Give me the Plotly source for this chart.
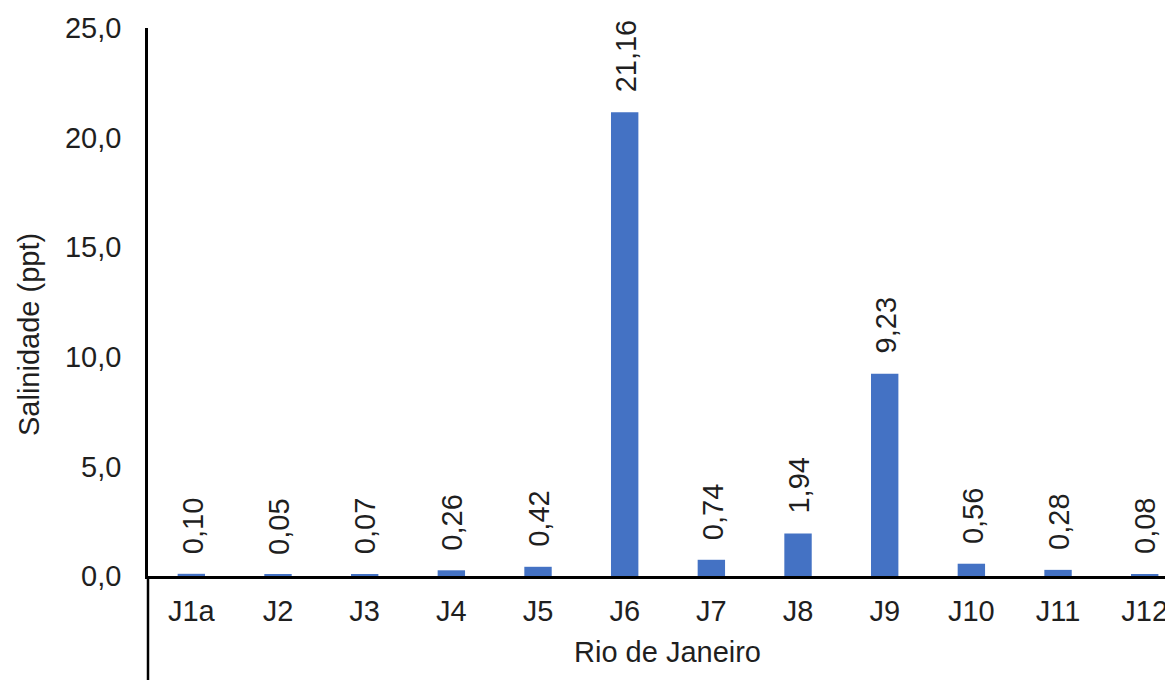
import plotly.graph_objects as go

categories = ["J1a", "J2", "J3", "J4", "J5", "J6", "J7", "J8", "J9", "J10", "J11", "J12"]
salinity = [0.10, 0.05, 0.07, 0.26, 0.42, 21.16, 0.74, 1.94, 9.23, 0.56, 0.28, 0.08]
y_ticks = [0, 5, 10, 15, 20, 25]

FONT = "Arial, Liberation Sans, sans-serif"
TXT = "#1f1f1f"
FS = 29

# the page body adds an 8px offset, so the figure is sized to fit the window
OFF = 8
W, H = 1173 - OFF, 680 - OFF
ML, MR, MT, MB = 148 - OFF, 0, 28 - OFF, 104
plot_w = W - ML - MR
plot_h = H - MT - MB
unit = 86.67  # px per category
x_max = -0.5 + plot_w / unit

fig = go.Figure(
    go.Bar(
        x=categories,
        y=salinity,
        marker=dict(color="#4472C4", line=dict(width=0)),
        width=0.316,
        hoverinfo="x+y",
    )
)

annotations = []
for c, v in zip(categories, salinity):
    annotations.append(dict(
        x=c, y=v, xref="x", yref="y",
        text=f"{v:.2f}".replace(".", ","),
        textangle=-90, showarrow=False,
        xanchor="center", yanchor="bottom", yshift=18, xshift=1,
        font=dict(family=FONT, size=FS, color=TXT),
    ))

# axis titles (positions in window pixels converted to paper units)
annotations.append(dict(
    x=(667.5 - 148) / plot_w, y=(576 - 652) / plot_h, xref="paper", yref="paper",
    text="Rio de Janeiro", showarrow=False, xanchor="center", yanchor="middle",
    font=dict(family=FONT, size=FS, color=TXT),
))
annotations.append(dict(
    x=(29 - 148) / plot_w, y=(576 - 335) / plot_h, xref="paper", yref="paper",
    text="Salinidade (ppt)", textangle=-90, showarrow=False, xanchor="center", yanchor="middle",
    font=dict(family=FONT, size=FS, color=TXT),
))

fig.update_layout(
    width=W, height=H,
    margin=dict(l=ML, r=MR, t=MT, b=MB, pad=0),
    paper_bgcolor="white", plot_bgcolor="white",
    separators=",.",
    showlegend=False,
    font=dict(family=FONT, size=FS, color=TXT),
    annotations=annotations,
    xaxis=dict(
        type="category",
        range=[-0.5, x_max],
        showline=True, linecolor="#000000", linewidth=2.5,
        ticks="", showgrid=False, zeroline=False,
        tickfont=dict(family=FONT, size=FS, color=TXT),
        ticklabelstandoff=7,
    ),
    yaxis=dict(
        range=[0, 25],
        tickvals=y_ticks,
        tickformat=".1f",
        showline=True, linecolor="#000000", linewidth=2.5,
        ticks="", showgrid=False, zeroline=False,
        tickfont=dict(family=FONT, size=FS, color=TXT),
        ticklabelstandoff=18,
    ),
    shapes=[dict(
        type="line", xref="paper", yref="paper",
        x0=0, x1=0, y0=0, y1=-(MB + 5) / plot_h,
        line=dict(color="#000000", width=2.5),
    )],
)

fig.write_html("out.html")
